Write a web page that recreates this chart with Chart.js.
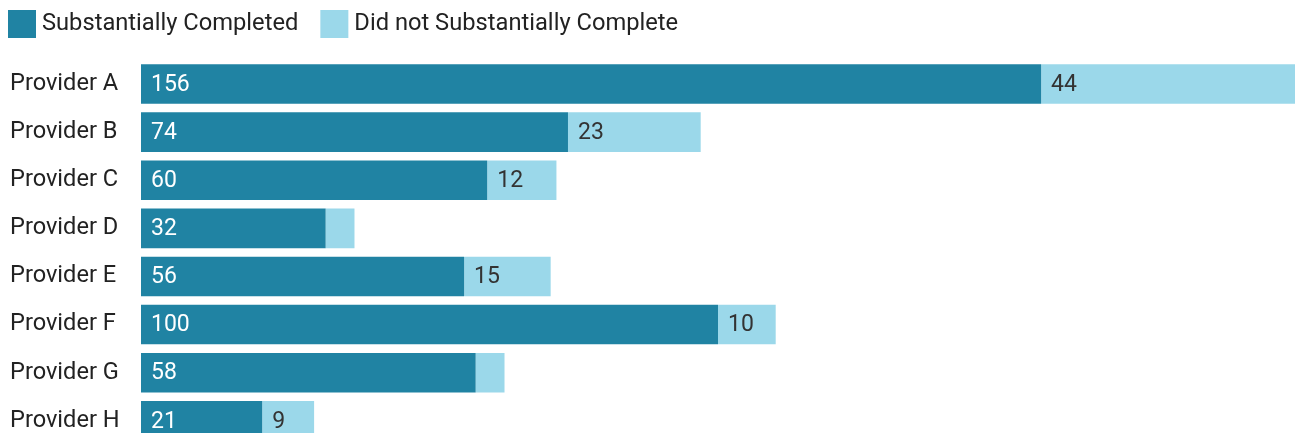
<!DOCTYPE html>
<html><head><meta charset="utf-8">
<script src="https://cdn.jsdelivr.net/npm/chart.js@4"></script>
<style>html,body{margin:0;padding:0;background:#fff;overflow:hidden;}#wrap{width:1295px;height:459px;}</style>
</head><body><div id="wrap"><canvas id="c" width="1295" height="459"></canvas></div>
<script>
const categories = ["Provider A","Provider B","Provider C","Provider D","Provider E","Provider F","Provider G","Provider H"];
const completed = [156,74,60,32,56,100,58,21];
const notCompleted = [44,23,12,5,15,10,5,9];
const seriesNames = ["Substantially Completed","Did not Substantially Complete"];
const colors = ["#2083a3","#9bd8ea"];
const labelColors = ["#ffffff","#333333"];
const FONT = "Roboto";

const valueLabels = {
  id:'valueLabels',
  afterDatasetsDraw(chart){
    const ctx = chart.ctx;
    ctx.save();
    ctx.font = "23px " + FONT;
    ctx.textBaseline = "middle";
    ctx.textAlign = "left";
    chart.data.datasets.forEach((ds,di)=>{
      const meta = chart.getDatasetMeta(di);
      meta.data.forEach((bar,i)=>{
        const v = ds.data[i];
        const w = Math.abs(bar.x - bar.base);
        if (w < 36) return;
        ctx.fillStyle = labelColors[di];
        ctx.fillText(String(v), Math.min(bar.x,bar.base) + 10, bar.y + 1);
      });
    });
    ctx.restore();
  }
};
const customLegend = {
  id:'customLegend',
  afterDraw(chart){
    const ctx = chart.ctx;
    ctx.save();
    ctx.font = "23.7px " + FONT;
    ctx.textBaseline = "middle";
    ctx.textAlign = "left";
    let x = 8;
    seriesNames.forEach((n,i)=>{
      ctx.fillStyle = colors[i];
      ctx.fillRect(x, 10, 28, 28);
      ctx.fillStyle = "#222222";
      ctx.fillText(n, x + 34, 24);
      x += 34 + ctx.measureText(n).width + 22;
    });
    ctx.restore();
  }
};

new Chart(document.getElementById('c'), {
  type:'bar',
  data:{
    labels:categories,
    datasets:[
      {label:seriesNames[0], data:completed, backgroundColor:colors[0], barPercentage:0.823, categoryPercentage:1},
      {label:seriesNames[1], data:notCompleted, backgroundColor:colors[1], barPercentage:0.823, categoryPercentage:1}
    ]
  },
  options:{
    indexAxis:'y',
    responsive:false,
    animation:false,
    layout:{padding:{left:10,top:60,right:0,bottom:0}},
    plugins:{legend:{display:false},tooltip:{enabled:false}},
    scales:{
      x:{stacked:true,display:false,min:0,max:200},
      y:{stacked:true,
         grid:{display:false,drawTicks:false},
         border:{display:false},
         ticks:{crossAlign:'far',color:'#222222',font:{family:FONT,size:23.6},padding:0},
         afterFit(s){s.width=131;}
      }
    }
  },
  plugins:[valueLabels,customLegend]
});
</script></body></html>
